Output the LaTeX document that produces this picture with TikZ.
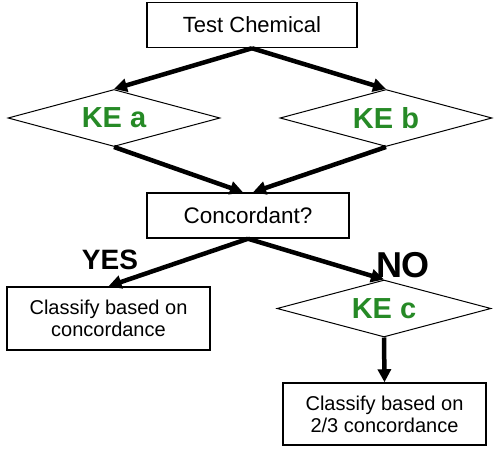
\documentclass[tikz,border=0pt]{standalone}
\usepackage{fontspec}
\setmainfont{Liberation Sans}
\usetikzlibrary{shapes.geometric, arrows.meta}
\definecolor{kegreen}{RGB}{38,138,38}
\tikzset{
    box/.style={draw, line width=1.5pt, rectangle, inner sep=0pt, align=center, font=\fontsize{20}{22}\selectfont},
    decision/.style={draw, line width=1pt, diamond, aspect=3.7, inner sep=0pt, minimum width=212pt, minimum height=57pt, text=kegreen, font=\fontsize{29}{30}\selectfont\bfseries},
    arrow/.style={line width=4.5pt, -{Triangle[length=13pt, width=13pt]}},
    answer/.style={inner sep=0pt, font=\bfseries}
}

\begin{document}
\begin{tikzpicture}[x=1pt, y=1pt]
\useasboundingbox (0,0) rectangle (498,448);
\node[box, minimum width=210pt, minimum height=45pt, font=\fontsize{22}{24}\selectfont] (test) at (252,423) {Test Chemical};
\node[decision] (kea) at (114,330) {KE a};
\node[decision] (keb) at (386,330) {KE b};
\node[box, minimum width=202pt, minimum height=45pt, font=\fontsize{22.5}{24}\selectfont] (conc) at (248,232.5) {Concordant?};
\node[box, minimum width=203pt, minimum height=63pt] (cls1) at (108.5,129.5) {Classify based on\\concordance};
\node[decision, minimum width=214pt] (kec) at (384,139.5) {KE c};
\node[box, minimum width=203pt, minimum height=62pt] (cls2) at (384.5,34) {Classify based on\\2/3 concordance};
\node[answer, font=\fontsize{28}{30}\selectfont\bfseries] (yes) at (110,188) {YES};
\node[answer, font=\fontsize{36}{38}\selectfont\bfseries] (no) at (403,183) {NO};
\draw[arrow] (test.south) -- (kea.north);
\draw[arrow] (test.south) -- (keb.north);
\draw[arrow] (kea.south) -- ([xshift=-5pt]conc.north);
\draw[arrow] (keb.south) -- ([xshift=5pt]conc.north);
\draw[arrow] (conc.south) -- (cls1.north);
\draw[arrow] (conc.south) -- (kec.north);
\draw[arrow] (kec.south) -- (cls2.north);
\end{tikzpicture}
\end{document}
